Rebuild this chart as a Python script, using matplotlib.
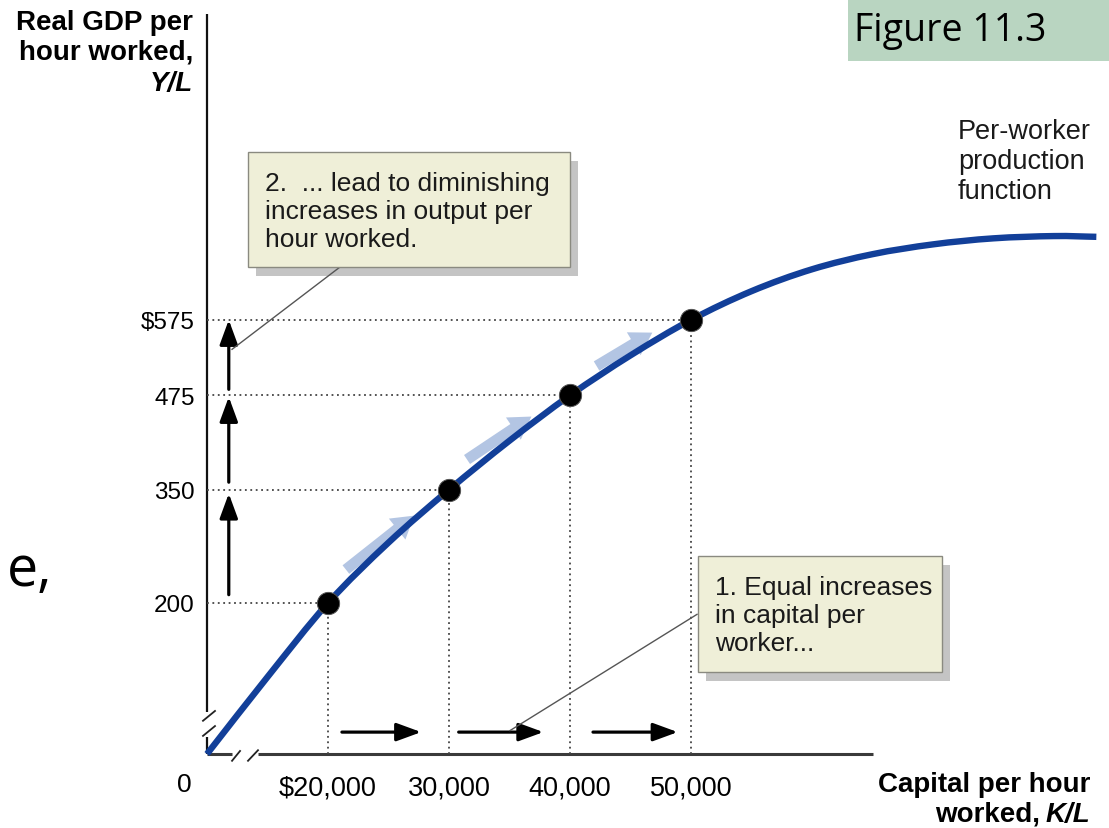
import matplotlib
matplotlib.use("Agg")
import matplotlib.pyplot as plt
import numpy as np
from matplotlib.path import Path
from matplotlib.patches import PathPatch, Rectangle, FancyArrowPatch

plt.rcParams['font.family'] = ['Liberation Sans', 'DejaVu Sans']

# ---- data -------------------------------------------------------------
capital_ticks = [20000, 30000, 40000, 50000]
capital_labels = [r'\$20,000', '30,000', '40,000', '50,000']
output_ticks = [200, 350, 475, 575]
output_labels = ['200', '350', '475', r'\$575']

# points marked on the production function
point_k = [20000, 30000, 40000, 50000]
point_y = [200, 350, 475, 575]

# per-worker production function (capital per hour, output per hour)
curve_k = [10000, 15000, 20000, 25000, 30000, 35000, 40000, 45000, 50000,
           55000, 60000, 65000, 70000, 75000, 80000, 83500]
curve_y = [0, 102, 200, 280, 350, 415, 475, 528, 575,
           613, 642, 662, 675, 683, 686, 685]

K_ORIGIN = 10000          # where the broken capital axis starts
BLUE = '#123f99'
LIGHT_BLUE = '#b3c5e3'
NOTE_FILL = '#efefd8'

fig = plt.figure(figsize=(11.09, 8.29), dpi=100)
ax = fig.add_axes([207 / 1109, 74 / 829, 893 / 1109, 745 / 829])
ax.set_xlim(K_ORIGIN, K_ORIGIN + 893 / 0.0121)
ax.set_ylim(0, 745 / 0.755)
for s in ax.spines.values():
    s.set_visible(False)

ax.set_xticks(capital_ticks)
ax.set_xticklabels(capital_labels, fontsize=19.5)
ax.set_yticks(output_ticks)
ax.set_yticklabels(output_labels, fontsize=17.5)
ax.tick_params(axis='both', length=0)
ax.tick_params(axis='x', pad=15)
ax.tick_params(axis='y', pad=9)


def smooth_path(xs, ys):
    """Catmull-Rom spline through the given points as cubic Bezier segments."""
    pts = np.column_stack([xs, ys]).astype(float)
    ext = np.vstack([pts[0] - (pts[1] - pts[0]), pts, pts[-1] + (pts[-1] - pts[-2])])
    verts = [tuple(pts[0])]
    codes = [Path.MOVETO]
    for i in range(1, len(ext) - 2):
        p0, p1, p2, p3 = ext[i - 1], ext[i], ext[i + 1], ext[i + 2]
        c1 = p1 + (p2 - p0) / 6.0
        c2 = p2 - (p3 - p1) / 6.0
        verts += [tuple(c1), tuple(c2), tuple(p2)]
        codes += [Path.CURVE4] * 3
    return Path(verts, codes)


# ---- axis lines with break marks ---------------------------------------
axis_kw = dict(clip_on=False, solid_capstyle='butt')
ax.plot([K_ORIGIN, K_ORIGIN], [56, 980], color='#111111', lw=1.6, **axis_kw)
ax.plot([K_ORIGIN, K_ORIGIN], [0, 22], color='#111111', lw=1.6, **axis_kw)
ax.plot([K_ORIGIN, 12070], [0, 0], color='#3a3a3a', lw=2.2, **axis_kw)
ax.plot([14200, 65000], [0, 0], color='#3a3a3a', lw=2.2, **axis_kw)
for (k1, y1, k2, y2) in [(9670, 44, 10660, 57), (9670, 24, 10660, 37),
                         (12070, -9, 12730, 4), (13390, -9, 14215, 5)]:
    ax.plot([k1, k2], [y1, y2], color='#222222', lw=1.3, clip_on=False)

# ---- dotted guides -------------------------------------------------------
for k, y in zip(point_k, point_y):
    ax.plot([K_ORIGIN, k], [y, y], color='#444444', lw=1.3,
            linestyle=(0, (1, 2.0)), zorder=2)
    ax.plot([k, k], [0, y], color='#444444', lw=1.3,
            linestyle=(0, (1, 2.0)), zorder=2)

# ---- light direction arrows along the curve ------------------------------
for (k1, y1, k2, y2) in [(21300, 242, 27300, 318),
                         (31300, 388, 37000, 449),
                         (42000, 512, 47000, 560)]:
    ax.add_patch(FancyArrowPatch(
        (k1, y1), (k2, y2),
        arrowstyle='simple,head_width=1.6,head_length=1.3,tail_width=0.65',
        mutation_scale=12, color=LIGHT_BLUE, lw=0, zorder=3))

# ---- production function -------------------------------------------------
ax.add_patch(PathPatch(smooth_path(curve_k, curve_y), facecolor='none',
                       edgecolor=BLUE, lw=4.6, capstyle='butt', zorder=4,
                       clip_on=False))
ax.plot(point_k, point_y, 'o', color='black', markersize=16,
        markeredgecolor='#555555', markeredgewidth=0.7, zorder=5)

# ---- black step arrows ----------------------------------------------------
black_arrow = dict(arrowstyle='-|>,head_length=0.6,head_width=0.22',
                   mutation_scale=25, color='black', lw=2.3,
                   shrinkA=0, shrinkB=0)
for (k1, k2) in [(21150, 27700), (30800, 37800), (41900, 48900)]:
    ax.annotate('', xy=(k2, 29), xytext=(k1, 29), arrowprops=black_arrow,
                annotation_clip=False)
for (y1, y2) in [(211, 345), (360, 473), (483, 575)]:
    ax.annotate('', xy=(11800, y2), xytext=(11800, y1), arrowprops=black_arrow,
                annotation_clip=False)

# ---- callout boxes ----------------------------------------------------------
def note_box(k0, y0, k1, y1):
    dk = 8 / 0.0121
    dy = 9 / 0.755
    ax.add_patch(Rectangle((k0 + dk, y0 - dy), k1 - k0, y1 - y0,
                           facecolor='#c4c4c4', edgecolor='none', zorder=6,
                           clip_on=False))
    ax.add_patch(Rectangle((k0, y0), k1 - k0, y1 - y0, facecolor=NOTE_FILL,
                           edgecolor='#8a8a80', lw=1.0, zorder=7,
                           clip_on=False))


note_box(13390, 645, 40000, 797)
note_box(50580, 109, 70750, 262)

# leader lines
ax.plot([20990, 12070], [645, 536], color='#555555', lw=1.0, zorder=6)
ax.plot([50500, 35040], [185, 31], color='#555555', lw=1.0, zorder=6)

note_kw = dict(fontsize=19, color='#1a1a1a', linespacing=1.22, zorder=8,
               va='center', ha='left')
ax.text(14800, 719, '2.  ... lead to diminishing\nincreases in output per\nhour worked.',
        **note_kw)
ax.text(51980, 184, '1. Equal increases\nin capital per\nworker...', **note_kw)

# ---- labels -------------------------------------------------------------------
W, H = 1109, 829


def fx(px):
    return px / W


def fy(py):
    return 1 - py / H


fig.text(fx(193), fy(38), 'Real GDP per\nhour worked,', fontsize=20,
         fontweight='bold', ha='right', va='center', multialignment='right',
         linespacing=1.2)
fig.text(fx(193), fy(84), 'Y/L', fontsize=20, fontweight='bold',
         fontstyle='italic', ha='right', va='center')

fig.text(fx(1090), fy(785), 'Capital per hour', fontsize=20,
         fontweight='bold', ha='right', va='center')
fig.text(fx(1090), fy(815), 'K/L', fontsize=20, fontweight='bold',
         fontstyle='italic', ha='right', va='center')
fig.text(fx(1040), fy(815), 'worked,', fontsize=20, fontweight='bold',
         ha='right', va='center')

fig.text(fx(184), fy(785), '0', fontsize=19, ha='center', va='center')

fig.text(fx(958), fy(162), 'Per-worker\nproduction\nfunction', fontsize=19.5,
         ha='left', va='center', linespacing=1.18, color='#1a1a1a')

# slide header tag
fig.patches.append(Rectangle((fx(848), fy(62)), 1 - fx(848), 62 / H,
                             transform=fig.transFigure, facecolor='#b9d5c1',
                             edgecolor='none'))
fig.text(fx(854), fy(41), 'Figure 11.3', fontsize=27, family='Open Sans',
         ha='left', va='baseline', color='black')

# fragment of slide body text at the left edge
fig.text(fx(52), fy(586), 'e,', fontsize=40, family='Open Sans',
         ha='right', va='baseline', color='black')

fig.savefig('out.png', dpi=100)
